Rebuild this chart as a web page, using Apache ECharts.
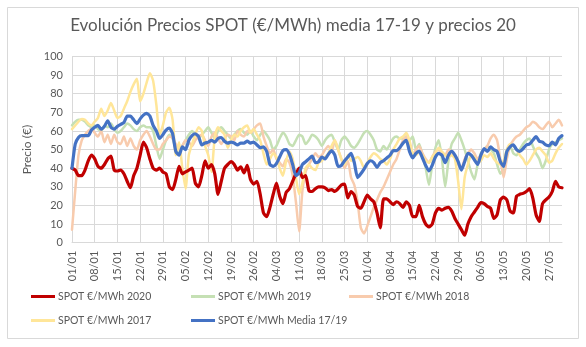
<!DOCTYPE html>
<html>
<head>
<meta charset="utf-8">
<script src="https://cdn.jsdelivr.net/npm/echarts@6/dist/echarts.min.js"></script>
<style>html,body{margin:0;padding:0;background:#fff;}#c{width:586px;height:347px;}</style>
</head>
<body>
<div id="c"></div>
<script>
// Month lengths of 2020 used to build the dd/mm category labels (01/01 .. 31/05)
var monthDays = [31, 29, 31, 30, 31];
var categories = [];
for (var m = 0; m < monthDays.length; m++) {
  for (var d = 1; d <= monthDays[m]; d++) {
    categories.push((d < 10 ? '0' : '') + d + '/' + (m + 1 < 10 ? '0' : '') + (m + 1));
  }
}
var yTicks = [0, 10, 20, 30, 40, 50, 60, 70, 80, 90, 100];

var spot2020 = [
  40, 39, 36, 36, 39, 44, 47, 45, 41, 40, 42, 45, 46.5, 39, 38.5, 39, 37, 33, 29.5, 36, 40, 47, 54, 51, 45, 40,
  39, 40, 38, 37, 30, 28.5, 34, 41, 37, 38, 39, 40, 32, 30, 36, 44, 40, 42, 37, 26, 33, 40, 42, 43.5, 42, 39,
  40.8, 37.5, 41.5, 34, 31.5, 33, 26, 16, 14, 19, 26, 32, 25, 21, 27, 29, 33, 37, 40, 35, 36, 28, 27.5, 29, 30,
  30, 29.5, 28, 28.5, 27.5, 29, 31, 31.5, 24, 27.5, 25.5, 19.5, 18.5, 22, 25.5, 23.5, 22, 16, 8, 23.5, 23.5, 22, 20.5, 22, 21,
  19, 22, 20, 14, 14, 20, 14, 10, 8.5, 10, 16, 18.5, 17.5, 18.5, 19, 17, 13, 10, 7, 4, 10, 14, 16.5, 19, 21.5, 21,
  19.5, 18.5, 13, 15, 23, 24.5, 23, 17, 16, 25, 26, 26.5, 27.5, 29, 24, 15, 11.5, 21, 23, 24.5, 27.5, 33, 30, 29.5
];
var spot2019 = [
  63, 65, 66, 66, 65, 63, 62, 63, 61, 60, 63, 62, 64, 61, 59, 60, 62, 64, 63, 61, 60, 62, 63, 62, 62, 60,
  52, 45, 50, 55, 58, 56, 50, 48, 52, 55, 58, 60, 58, 56, 58, 60, 62, 59, 56, 60, 62, 60, 58, 56, 58, 60,
  61, 59, 58, 60, 57, 55, 58, 60, 58, 55, 50, 52, 56, 59, 57, 53, 52, 55, 58, 57, 53, 55, 58, 57, 55,
  52, 55, 57, 58, 54, 50, 55, 57, 55, 52, 51, 53, 56, 59, 60, 58, 55, 50, 49, 52, 50, 53, 56, 57, 56,
  56, 57, 55, 57, 50, 53, 47, 40, 31, 42, 51, 55, 45, 30, 44, 53, 56, 59, 55, 50, 44, 38, 34, 42, 48, 50,
  52, 50, 48, 42, 37, 40, 50, 52, 48, 47, 50, 53, 55, 56, 52, 48, 45, 40, 44, 50, 53, 54, 55, 56
];
var spot2018 = [
  7, 28, 47, 55, 58, 60, 61, 59, 57, 60, 54, 58, 53, 58, 54, 53, 57, 52, 56, 52, 50, 55, 58, 60, 57, 53,
  50, 50, 53, 55, 57, 56, 53, 50, 52, 55, 54, 52, 55, 57, 58, 55, 52, 57, 59, 56, 53, 56, 58, 57, 55, 60,
  58, 57, 60, 59, 61, 63, 64, 57, 52, 48, 50, 45, 43, 41, 45, 43, 36, 22, 6, 28, 38, 42, 45, 48, 46,
  47, 50, 52, 49, 55, 50, 45, 40, 44, 35, 31, 22, 8, 5, 9, 14, 19, 23, 27, 30, 34, 38, 42, 45, 50,
  55, 57, 52, 47, 50, 52, 48, 45, 43, 46, 49, 50, 48, 47, 50, 49, 46, 42, 40, 45, 48, 50, 48, 45, 47, 50,
  52, 56, 58, 55, 45, 35, 45, 52, 55, 57, 58, 60, 62, 63, 65, 64, 62, 61, 63, 65, 62, 64, 66, 63
];
var spot2017 = [
  61, 63, 65, 66.5, 66, 64, 63, 65, 67, 72, 68, 71, 75, 71, 67, 68, 72, 76, 81, 85, 88, 76, 80, 86, 91, 87,
  74, 58, 63, 70, 72.5, 66, 47, 54, 40, 29, 47, 53, 58, 62, 60, 52, 47, 38, 57, 62, 60, 58, 51, 55, 58, 57,
  60, 62, 63, 59, 61, 58, 55, 48, 42, 45, 48, 46, 40, 36, 44, 49, 45, 35, 26, 32, 40, 42, 40, 39, 43,
  44, 46, 48, 52, 55, 50, 45, 42, 47, 44, 45, 46, 44, 40, 43, 46, 48, 47, 45, 44, 42, 45, 50, 53, 56,
  57, 59, 55, 48, 47, 49, 47, 44, 43, 46, 48, 51, 49, 47, 46, 47, 45, 33, 18, 35, 42, 47, 46, 43, 44, 47,
  46, 48, 45, 43, 42, 44, 50, 53, 52, 50, 47, 45, 42, 44, 47, 50, 51, 49, 47, 43, 44, 48, 51, 53
];
var spotMedia = [
  40, 53, 56.5, 57.5, 57.5, 57.5, 60.5, 62, 63, 61, 62.5, 65.5, 62, 61, 62.5, 63.5, 64.5, 68, 68, 66, 64, 66.5, 68.5, 69.5, 68, 63,
  60, 56, 58, 60.5, 61.5, 58.5, 49, 47, 51.5, 50, 55, 57.5, 58.5, 57, 52.5, 53.5, 54, 55, 54, 56, 56.5, 54.5, 53.5, 54, 53.5, 52.5,
  53.5, 53.5, 54.5, 53.5, 54, 52.5, 51, 51.5, 49, 42, 41, 42.5, 46, 49.5, 50, 47.5, 42, 36,
  37.5, 42, 43.5, 45, 46.5, 43, 43.5, 46, 45, 47.5, 49.5, 47, 41, 41.5, 44, 46, 48, 43, 35, 37, 39.5, 42.5, 44, 43, 40.5, 43, 44, 45.5, 47, 49.5, 49.5, 51,
  53.5, 55, 49, 45.5, 48, 49, 45.5, 41.5, 38.5, 41.5, 46, 48, 47, 43, 47, 49, 47, 43.5, 39, 43.5, 48, 47, 44.5, 42, 47, 50.5,
  49, 51.5, 50, 49, 43.5, 41, 49, 51.5, 52.5, 50, 49, 50.5, 52.5, 53, 55, 57, 54.5, 54, 52.5, 52, 54, 52.5, 56, 57.5
];

var names = ['SPOT €/MWh 2020', 'SPOT €/MWh 2019', 'SPOT €/MWh 2018', 'SPOT €/MWh 2017', 'SPOT €/MWh Media 17/19'];
var colors = ['#C00000', '#C5E0B4', '#F8CBAD', '#FFE699', '#4472C4'];
var dataSets = [spot2020, spot2019, spot2018, spot2017, spotMedia];
var widths = [3.2, 2.5, 2.5, 2.5, 3.2];
var zs = [4, 2, 2, 2, 5];
var FONT = 'Lato';
var TXT = '#595959';

var chart = echarts.init(document.getElementById('c'), null, {renderer: 'canvas'});

var legendPos = [[31, 291], [191, 291], [349, 291], [31, 315], [191, 315]];
var legends = names.map(function (n, i) {
  return {
    data: [n], left: legendPos[i][0], top: legendPos[i][1], padding: 0,
    icon: 'rect', itemWidth: 24, itemHeight: 3, itemGap: 4,
    textStyle: {color: TXT, fontSize: 10.5, fontFamily: FONT, padding: [0, 0, 0, -2]},
    selectedMode: false
  };
});

chart.setOption({
  animation: false,
  backgroundColor: '#fff',
  title: {
    text: 'Evolución Precios SPOT (€/MWh) media 17-19 y precios 20',
    left: 'center', top: 17, padding: 0,
    textStyle: {color: TXT, fontSize: 17, fontWeight: 'normal', fontFamily: FONT}
  },
  graphic: [{
    type: 'rect', shape: {x: 7.5, y: 7.5, width: 571, height: 331},
    style: {fill: 'none', stroke: '#D9D9D9', lineWidth: 1}, silent: true, z: -1
  }],
  legend: legends,
  grid: {left: 72, right: 24, top: 56.5, bottom: 104.3, containLabel: false},
  xAxis: {
    type: 'category', data: categories, boundaryGap: false,
    axisLine: {show: true, lineStyle: {color: '#D9D9D9'}},
    axisTick: {show: false},
    axisLabel: {interval: 6, rotate: 90, color: TXT, fontSize: 11, fontFamily: FONT, margin: 8},
    splitLine: {show: true, interval: 6, lineStyle: {color: '#D9D9D9', width: 1}}
  },
  yAxis: {
    type: 'value', min: yTicks[0], max: yTicks[yTicks.length - 1], interval: 10,
    name: 'Precio (€)', nameLocation: 'middle', nameGap: 22, nameRotate: 90,
    nameTextStyle: {color: TXT, fontSize: 12, fontFamily: FONT},
    axisLine: {show: false}, axisTick: {show: false},
    axisLabel: {color: TXT, fontSize: 11, fontFamily: FONT, margin: 9},
    splitLine: {lineStyle: {color: '#D9D9D9', width: 1}}
  },
  series: names.map(function (n, i) {
    return {
      name: n, type: 'line', data: dataSets[i], showSymbol: false, symbol: 'none',
      smooth: 0.2, z: zs[i],
      lineStyle: {color: colors[i], width: widths[i], cap: 'round', join: 'round'},
      itemStyle: {color: colors[i]}
    };
  })
});
</script>
</body>
</html>
